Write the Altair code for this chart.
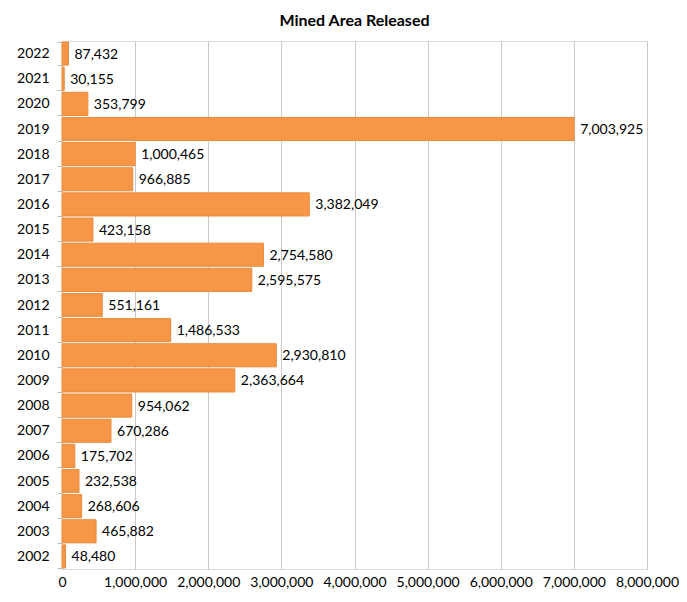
import altair as alt
import pandas as pd

years = [str(y) for y in range(2002, 2023)]
values = [48480, 465882, 268606, 232538, 175702, 670286, 954062, 2363664,
          2930810, 1486533, 551161, 2595575, 2754580, 423158,
          3382049, 966885, 1000465, 7003925, 353799, 30155, 87432]
x_ticks = list(range(0, 8000001, 1000000))

df = pd.DataFrame({"year": years, "value": values})
df["label"] = df["value"].map(lambda v: f"{v:,}")

order = list(reversed(years))
FONT = "Lato"

y_enc = alt.Y("year:N", sort=order, title=None,
              scale=alt.Scale(paddingInner=0.08, paddingOuter=0.04),
              axis=alt.Axis(labelFont=FONT, labelFontSize=14, labelColor="#000000",
                            labelPadding=8, domainColor="#BFBFBF", tickColor="#BFBFBF",
                            tickSize=5, tickBand="extent", grid=False))
x_enc = alt.X("value:Q", title=None,
              scale=alt.Scale(domain=[0, 8000000], nice=False),
              axis=alt.Axis(values=x_ticks, format=",d",
                            labelFont=FONT, labelFontSize=14, labelColor="#000000",
                            labelPadding=6, labelFlush=False, domain=False, ticks=False,
                            grid=True, gridColor="#CFC7C7", labelOverlap=False))

bars = alt.Chart(df).mark_bar(color="#F79646", stroke="#E98A3C", strokeWidth=1).encode(
    x=x_enc, y=y_enc)
text = alt.Chart(df).mark_text(align="left", baseline="middle", dx=6, dy=1,
                               font=FONT, fontSize=14, color="#000000").encode(
    x="value:Q", y=alt.Y("year:N", sort=order), text="label:N")

chart = (bars + text).properties(
    width=585, height=528,
    title=alt.TitleParams("Mined Area Released", font=FONT, fontSize=16,
                          fontWeight="bold", color="#000000", anchor="middle",
                          offset=5),
    autosize=alt.AutoSizeParams(type="none"),
    padding={"left": 54, "top": 33, "right": 32, "bottom": 22},
).configure_view(fill="#FCECE7", stroke=None).configure(background="#FFFFFF")

chart.save("out.html", embed_options={"renderer": "svg", "actions": False})
